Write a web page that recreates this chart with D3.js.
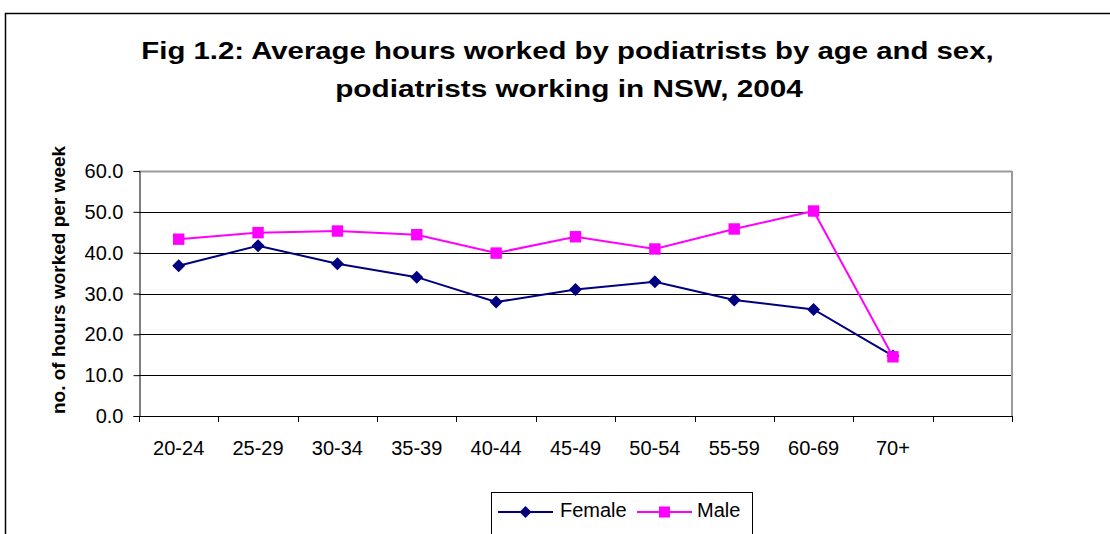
<!DOCTYPE html>
<html>
<head>
<meta charset="utf-8">
<script src="https://cdn.jsdelivr.net/npm/d3@7"></script>
<style>
  body { margin: 0; background: #fff; }
  text { font-family: "Liberation Sans", Arial, sans-serif; fill: #000; }
</style>
</head>
<body>
<div class="chart"></div>
<script>
// Chart data
var ageGroups = ["20-24", "25-29", "30-34", "35-39", "40-44", "45-49", "50-54", "55-59", "60-69", "70+", ""];
var femaleHours = [36.8, 41.7, 37.3, 34.0, 27.9, 31.0, 32.9, 28.4, 26.1, 14.7];
var maleHours = [43.3, 44.9, 45.3, 44.4, 39.9, 43.9, 40.9, 45.8, 50.2, 14.5];
var yTicks = [0, 10, 20, 30, 40, 50, 60];

// SVG area
var svgWidth = 1110;
var svgHeight = 534;

var plot = { left: 139, top: 171, right: 1012, bottom: 416 };

var svg = d3.select(".chart")
  .append("svg")
  .attr("width", svgWidth)
  .attr("height", svgHeight);

// outer frame (only top and left edges visible)
svg.append("path")
  .attr("d", "M5.5,534 V13.5 H1110")
  .attr("fill", "none")
  .attr("stroke", "#000")
  .attr("stroke-width", 1.5);

// stretch a centred text horizontally so it fills the given width
function fitText(sel, cx, y, width) {
  var w = sel.node().getComputedTextLength();
  sel.attr("x", 0).attr("y", 0)
    .attr("text-anchor", "middle")
    .attr("transform", "translate(" + cx + "," + y + ") scale(" + (width / w) + ",1)");
}

// title
var t1 = svg.append("text")
  .style("font-size", "24px").style("font-weight", "bold")
  .text("Fig 1.2: Average hours worked by podiatrists by age and sex,");
fitText(t1, 567.5, 59, 853);
var t2 = svg.append("text")
  .style("font-size", "24px").style("font-weight", "bold")
  .text("podiatrists working in NSW, 2004");
fitText(t2, 569, 97, 468);

// scales
var xScale = d3.scaleBand().domain(d3.range(ageGroups.length)).range([plot.left, plot.right]);
var yScale = d3.scaleLinear().domain([0, 60]).range([plot.bottom, plot.top]);

// gridlines
svg.append("g")
  .selectAll("line")
  .data(yTicks.slice(1))
  .enter()
  .append("line")
  .attr("x1", plot.left).attr("x2", plot.right)
  .attr("y1", function(d) { return Math.round(yScale(d)) + 0.5; })
  .attr("y2", function(d) { return Math.round(yScale(d)) + 0.5; })
  .attr("stroke", function(d) { return d === 60 ? "#9a9a9a" : "#000"; })
  .attr("stroke-width", function(d) { return d === 60 ? 2 : 1; });

// right border of plot
svg.append("line")
  .attr("x1", plot.right).attr("x2", plot.right)
  .attr("y1", plot.top).attr("y2", plot.bottom)
  .attr("stroke", "#9a9a9a").attr("stroke-width", 2);

// y axis
var leftAxis = d3.axisLeft(yScale)
  .tickValues(yTicks)
  .tickSize(6)
  .tickFormat(d3.format(".1f"));

var yAxisG = svg.append("g")
  .attr("transform", "translate(" + (plot.left + 0.5) + ",0)")
  .call(leftAxis);
yAxisG.select(".domain").attr("stroke", "#000");
yAxisG.selectAll("text")
  .style("font-size", "20px")
  .attr("x", -16)
  .attr("dy", "0.33em");

// x axis
var bottomAxis = d3.axisBottom(xScale)
  .tickSize(0)
  .tickFormat(function(i) { return ageGroups[i]; });

var xAxisG = svg.append("g")
  .attr("transform", "translate(0," + (plot.bottom + 0.5) + ")")
  .call(bottomAxis);
xAxisG.select(".domain").attr("stroke", "#000").attr("d", "M" + plot.left + ",0H" + plot.right);
xAxisG.selectAll("text")
  .style("font-size", "20px")
  .attr("dy", null)
  .attr("y", 38);

// category boundary ticks
svg.append("g")
  .selectAll("line")
  .data(d3.range(ageGroups.length + 1))
  .enter()
  .append("line")
  .attr("x1", function(i) { return Math.round(plot.left + i * xScale.step()) + 0.5; })
  .attr("x2", function(i) { return Math.round(plot.left + i * xScale.step()) + 0.5; })
  .attr("y1", plot.bottom).attr("y2", plot.bottom + 6)
  .attr("stroke", "#000");

// y-axis label
svg.append("text")
  .attr("transform", "translate(65,280) rotate(-90)")
  .attr("text-anchor", "middle")
  .style("font-size", "19px").style("font-weight", "bold")
  .text("no. of hours worked per week");

// lines
var cx = function(d, i) { return xScale(i) + xScale.bandwidth() / 2; };
var line = d3.line()
  .x(cx)
  .y(function(d) { return yScale(d); });

var series = [
  { name: "Female", values: femaleHours, color: "#000080" },
  { name: "Male", values: maleHours, color: "#ff00ff" }
];

// marker paths: diamond for Female, square for Male
function markerPath(s, r) {
  if (s.name === "Female") {
    return "M0," + (-r) + "L" + r + ",0L0," + r + "L" + (-r) + ",0Z";
  }
  return "M" + (-r) + "," + (-r) + "H" + r + "V" + r + "H" + (-r) + "Z";
}

series.forEach(function(s) {
  svg.append("path")
    .datum(s.values)
    .attr("d", line)
    .attr("fill", "none")
    .attr("stroke", s.color)
    .attr("stroke-width", 2);
});

series.forEach(function(s) {
  svg.append("g")
    .selectAll("path")
    .data(s.values)
    .enter()
    .append("path")
    .attr("transform", function(d, i) { return "translate(" + cx(d, i) + "," + yScale(d) + ")"; })
    .attr("d", markerPath(s, s.name === "Female" ? 6.5 : 5.7))
    .attr("fill", s.color);
});

// legend
var legend = svg.append("g");
legend.append("rect")
  .attr("x", 491.5).attr("y", 492.5)
  .attr("width", 261).attr("height", 42)
  .attr("fill", "#fff").attr("stroke", "#000");

var legendItems = [
  { s: series[0], lx: 498, tx: 560 },
  { s: series[1], lx: 637, tx: 697 }
];
legendItems.forEach(function(it) {
  legend.append("line")
    .attr("x1", it.lx).attr("x2", it.lx + 55)
    .attr("y1", 512).attr("y2", 512)
    .attr("stroke", it.s.color).attr("stroke-width", 2);
  legend.append("path")
    .attr("transform", "translate(" + (it.lx + 27.5) + ",512)")
    .attr("d", markerPath(it.s, it.s.name === "Female" ? 6 : 5.5))
    .attr("fill", it.s.color);
  legend.append("text")
    .attr("x", it.tx).attr("y", 517)
    .style("font-size", "20px")
    .text(it.s.name);
});
</script>
</body>
</html>
